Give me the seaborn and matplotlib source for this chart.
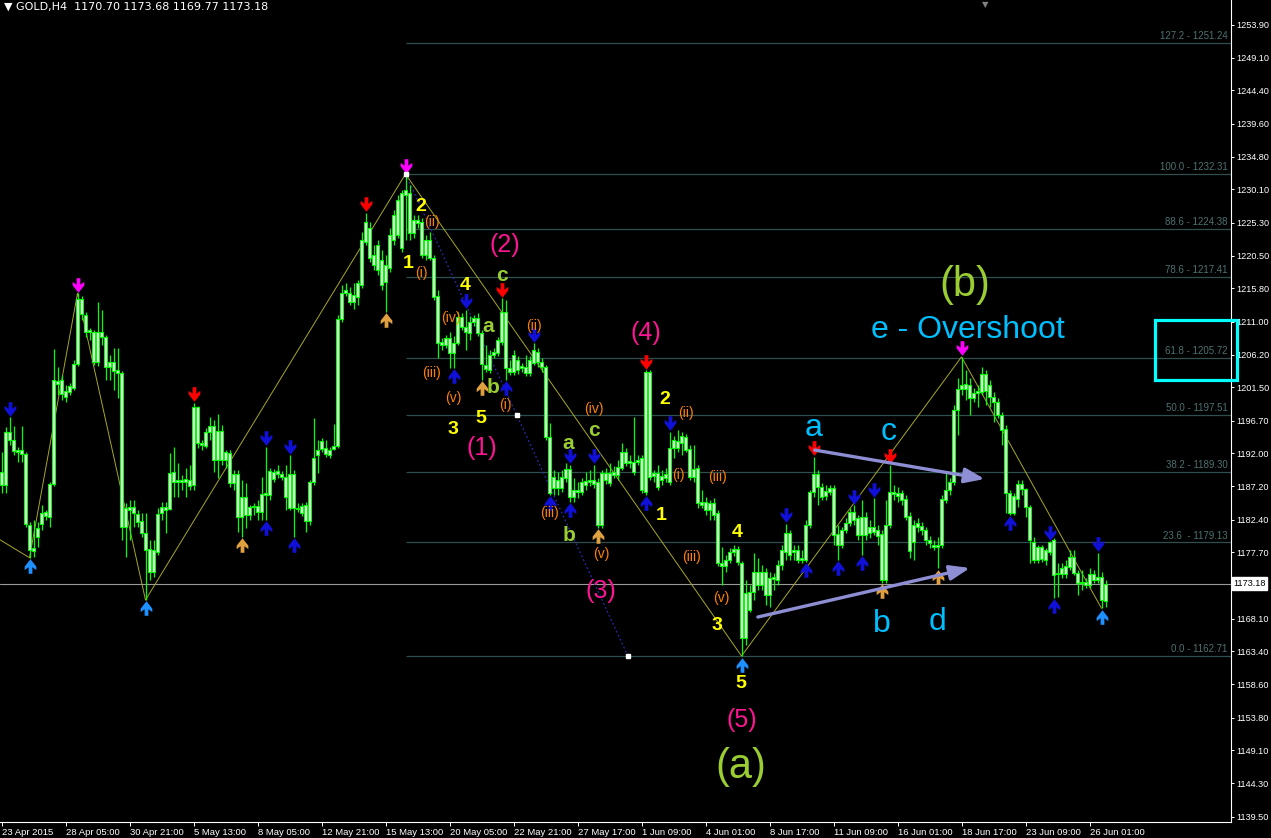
import numpy as np
import matplotlib
matplotlib.use("Agg")
import matplotlib.pyplot as plt
import seaborn as sns
from matplotlib.path import Path
from matplotlib.patches import Rectangle
from matplotlib.transforms import offset_copy, blended_transform_factory

# GOLD H4 candles, 23 Apr - 26 Jun 2015
opens = [
    1189.3, 1187.4, 1195.1, 1193.9, 1192.2, 1192.5, 1191.9, 1181.6, 1177.9, 1179.9,
    1181.8, 1183.5, 1182.8, 1187.6, 1202.4, 1202.6, 1200.1, 1200.8, 1201.4, 1204.9,
    1214.3, 1212.0, 1209.5, 1209.5, 1205.2, 1209.5, 1208.8, 1204.5, 1205.2, 1203.6,
    1203.6, 1181.3, 1184.2, 1183.4, 1183.2, 1182.2, 1180.5, 1178.2, 1174.8, 1177.7,
    1183.4, 1184.2, 1183.9, 1189.3, 1187.8, 1188.1, 1187.8, 1188.1, 1187.4, 1198.7,
    1193.5, 1193.0, 1195.1, 1195.9, 1191.0, 1195.2, 1191.0, 1192.0, 1187.7, 1189.0,
    1182.8, 1185.7, 1183.1, 1184.2, 1184.4, 1183.5, 1186.0, 1186.0, 1189.3, 1189.0,
    1189.0, 1188.6, 1184.1, 1189.0, 1184.1, 1183.4, 1184.5, 1182.2, 1187.8, 1191.7,
    1192.6, 1192.8, 1191.7, 1192.6, 1193.0, 1211.4, 1215.1, 1215.1, 1213.8, 1214.6,
    1216.3, 1222.5, 1224.5, 1220.6, 1218.5, 1219.9, 1216.7, 1218.7, 1222.8, 1223.5,
    1229.6, 1229.3, 1229.6, 1223.8, 1225.7, 1225.4, 1220.6, 1222.8, 1220.2, 1214.7,
    1207.6, 1208.6, 1208.6, 1206.5, 1207.9, 1211.7, 1210.2, 1209.4, 1210.9, 1211.5,
    1209.4, 1204.7, 1204.0, 1206.2, 1206.5, 1208.1, 1212.4, 1204.3, 1203.7, 1205.5,
    1204.3, 1204.5, 1203.6, 1205.0, 1206.6, 1205.2, 1204.5, 1194.3, 1187.0, 1188.1,
    1187.0, 1188.4, 1189.7, 1185.7, 1186.7, 1186.4, 1187.4, 1187.8, 1188.1, 1187.8,
    1181.6, 1189.1, 1187.7, 1189.3, 1188.9, 1189.9, 1192.2, 1190.6, 1190.7, 1190.7,
    1191.3, 1186.4, 1203.7, 1188.7, 1189.1, 1188.1, 1188.4, 1187.8, 1192.8, 1193.8,
    1193.5, 1194.3, 1192.6, 1188.6, 1189.9, 1185.0, 1185.0, 1183.8, 1184.8, 1183.4,
    1176.1, 1175.7, 1176.6, 1177.7, 1178.2, 1176.1, 1165.3, 1172.0, 1172.0, 1174.8,
    1173.0, 1174.8, 1171.5, 1173.8, 1173.7, 1175.9, 1177.7, 1180.5, 1177.7, 1178.0,
    1176.6, 1176.6, 1181.6, 1186.4, 1189.0, 1187.1, 1185.8, 1186.4, 1187.0, 1180.3,
    1178.7, 1180.9, 1181.9, 1183.5, 1182.6, 1180.2, 1182.8, 1180.5, 1181.3, 1180.9,
    1180.3, 1173.7, 1181.6, 1186.4, 1186.3, 1186.3, 1185.4, 1182.9, 1179.2, 1181.3,
    1181.5, 1180.9, 1179.5, 1178.7, 1178.5, 1178.7, 1185.2, 1186.7, 1187.8, 1198.2,
    1201.3, 1202.0, 1201.9, 1200.0, 1200.7, 1200.8, 1203.4, 1201.9, 1200.1, 1199.4,
    1197.5, 1195.5, 1186.3, 1183.4, 1185.4, 1187.6, 1186.8, 1184.2, 1179.2, 1176.6,
    1178.5, 1176.6, 1177.7, 1179.5, 1174.6, 1174.6, 1175.7, 1175.6, 1177.0, 1174.7,
    1173.3, 1173.4, 1173.0, 1174.6, 1173.7, 1174.1, 1170.70,
]
highs = [
    1192.2, 1195.8, 1197.2, 1195.9, 1192.9, 1195.9, 1192.2, 1182.1, 1182.4, 1182.1,
    1184.5, 1183.8, 1187.8, 1207.0, 1204.5, 1203.3, 1201.9, 1202.1, 1205.5, 1215.1,
    1214.7, 1212.4, 1210.1, 1209.8, 1213.8, 1212.7, 1209.1, 1206.2, 1207.2, 1207.2,
    1203.9, 1184.8, 1185.2, 1185.2, 1183.8, 1183.4, 1183.4, 1179.5, 1179.5, 1184.1,
    1185.0, 1185.0, 1192.0, 1192.9, 1190.6, 1188.9, 1189.9, 1190.3, 1199.3, 1198.8,
    1193.9, 1195.6, 1197.2, 1196.8, 1197.7, 1196.1, 1192.5, 1192.5, 1189.6, 1189.6,
    1188.1, 1187.7, 1184.5, 1184.8, 1185.2, 1188.6, 1192.9, 1189.9, 1189.7, 1190.3,
    1189.4, 1190.3, 1191.7, 1189.6, 1184.8, 1184.8, 1185.0, 1188.1, 1197.1, 1193.9,
    1194.2, 1193.9, 1192.9, 1196.2, 1212.0, 1216.3, 1216.6, 1216.0, 1216.6, 1217.0,
    1223.9, 1226.7, 1225.4, 1222.1, 1222.8, 1221.3, 1220.6, 1224.5, 1227.1, 1229.3,
    1230.0, 1232.3, 1230.7, 1226.4, 1226.4, 1226.0, 1223.5, 1223.9, 1220.6, 1215.6,
    1208.6, 1209.1, 1209.5, 1208.9, 1212.4, 1212.2, 1212.7, 1211.8, 1212.0, 1212.2,
    1209.8, 1207.6, 1206.9, 1207.2, 1208.8, 1214.4, 1214.1, 1205.5, 1206.9, 1206.0,
    1205.0, 1206.2, 1206.0, 1207.9, 1207.2, 1205.7, 1204.7, 1196.4, 1189.6, 1189.3,
    1189.6, 1190.6, 1190.3, 1188.4, 1187.8, 1188.4, 1189.3, 1189.6, 1190.3, 1188.4,
    1189.6, 1189.9, 1190.6, 1190.2, 1191.0, 1193.5, 1192.8, 1191.7, 1197.2, 1191.7,
    1191.7, 1204.0, 1204.0, 1189.6, 1190.3, 1189.6, 1189.9, 1195.1, 1194.5, 1195.4,
    1195.1, 1194.8, 1193.2, 1193.2, 1190.3, 1186.7, 1185.7, 1185.2, 1185.5, 1183.8,
    1178.5, 1177.3, 1178.3, 1178.7, 1178.6, 1176.4, 1173.7, 1173.0, 1177.6, 1176.9,
    1175.9, 1175.4, 1174.8, 1174.7, 1176.6, 1178.7, 1181.8, 1180.9, 1178.7, 1178.7,
    1178.0, 1182.4, 1186.7, 1191.5, 1189.6, 1187.7, 1187.4, 1187.4, 1187.4, 1181.6,
    1181.3, 1182.6, 1184.1, 1184.5, 1183.1, 1185.2, 1183.5, 1182.4, 1185.5, 1181.6,
    1180.9, 1185.2, 1190.3, 1187.4, 1187.1, 1186.7, 1186.0, 1183.5, 1182.4, 1182.6,
    1182.1, 1181.3, 1180.0, 1179.5, 1179.9, 1186.0, 1189.3, 1188.4, 1199.0, 1202.9,
    1205.9, 1204.0, 1202.9, 1201.4, 1201.9, 1204.5, 1204.0, 1202.6, 1200.8, 1200.0,
    1198.0, 1196.1, 1186.7, 1186.3, 1188.1, 1188.1, 1187.0, 1184.5, 1179.9, 1178.7,
    1178.7, 1178.3, 1179.3, 1179.8, 1176.1, 1176.1, 1176.6, 1178.0, 1178.0, 1175.1,
    1175.1, 1174.0, 1175.4, 1175.1, 1177.6, 1174.8, 1173.68,
]
lows = [
    1186.3, 1186.3, 1193.2, 1191.7, 1190.7, 1190.7, 1181.3, 1176.9, 1177.0, 1178.5,
    1180.9, 1182.4, 1181.3, 1187.3, 1200.4, 1199.7, 1199.4, 1200.4, 1201.1, 1204.6,
    1211.2, 1208.8, 1208.3, 1204.7, 1204.6, 1207.6, 1202.6, 1202.6, 1201.1, 1200.0,
    1179.5, 1177.0, 1179.5, 1181.3, 1181.3, 1179.9, 1170.8, 1173.7, 1174.1, 1177.3,
    1182.4, 1180.5, 1183.8, 1185.7, 1185.7, 1186.7, 1185.7, 1186.7, 1186.7, 1192.8,
    1192.5, 1192.8, 1193.9, 1189.3, 1188.4, 1190.3, 1189.9, 1187.1, 1186.7, 1180.6,
    1179.9, 1181.2, 1182.4, 1183.1, 1182.4, 1182.4, 1182.4, 1185.2, 1187.8, 1188.4,
    1188.1, 1183.8, 1183.8, 1179.9, 1183.5, 1182.9, 1180.6, 1181.6, 1187.4, 1189.1,
    1192.2, 1191.5, 1191.3, 1192.5, 1192.8, 1210.9, 1214.7, 1213.4, 1212.8, 1213.4,
    1215.9, 1222.1, 1219.6, 1218.5, 1217.7, 1215.6, 1212.4, 1218.2, 1222.1, 1223.1,
    1221.1, 1222.8, 1222.8, 1223.1, 1224.5, 1220.2, 1219.9, 1219.9, 1214.1, 1205.7,
    1206.9, 1207.2, 1204.3, 1204.3, 1207.6, 1209.8, 1206.9, 1208.3, 1210.4, 1208.9,
    1202.6, 1203.7, 1203.6, 1205.7, 1206.0, 1207.6, 1202.6, 1203.3, 1203.3, 1203.4,
    1203.7, 1203.2, 1203.2, 1204.7, 1204.5, 1203.7, 1193.9, 1186.0, 1186.0, 1186.0,
    1186.4, 1187.8, 1185.0, 1185.0, 1185.5, 1186.0, 1186.7, 1187.3, 1187.0, 1181.2,
    1181.2, 1187.6, 1187.3, 1188.4, 1188.1, 1189.6, 1190.2, 1189.9, 1188.9, 1190.3,
    1186.3, 1186.0, 1188.1, 1187.8, 1186.7, 1187.4, 1187.8, 1187.4, 1191.3, 1192.2,
    1191.7, 1192.2, 1188.1, 1187.8, 1184.1, 1184.1, 1183.1, 1182.4, 1182.4, 1175.7,
    1173.0, 1174.8, 1176.1, 1177.2, 1175.9, 1162.71, 1164.3, 1169.1, 1170.8, 1172.2,
    1172.2, 1170.1, 1169.8, 1172.2, 1173.0, 1175.1, 1176.6, 1176.6, 1176.6, 1176.1,
    1176.1, 1176.3, 1181.2, 1185.7, 1184.5, 1185.2, 1185.2, 1186.0, 1178.7, 1176.6,
    1178.3, 1180.5, 1181.5, 1181.6, 1179.5, 1177.3, 1179.5, 1179.8, 1180.2, 1178.7,
    1173.3, 1173.3, 1181.2, 1185.2, 1185.0, 1184.5, 1182.4, 1176.9, 1176.6, 1180.6,
    1180.2, 1178.7, 1178.3, 1178.0, 1175.4, 1178.3, 1184.8, 1186.0, 1187.4, 1194.6,
    1200.4, 1199.7, 1197.5, 1199.4, 1198.7, 1200.4, 1199.0, 1198.7, 1196.5, 1197.1,
    1193.2, 1183.4, 1183.1, 1183.1, 1184.2, 1186.0, 1182.8, 1176.1, 1176.1, 1176.1,
    1176.3, 1175.9, 1177.3, 1171.1, 1171.2, 1174.0, 1174.0, 1175.1, 1174.4, 1171.5,
    1172.2, 1172.5, 1172.5, 1173.3, 1173.3, 1169.6, 1169.77,
]
closes = [
    1187.4, 1195.1, 1193.9, 1192.3, 1192.5, 1191.9, 1181.8, 1178.0, 1178.3, 1181.2,
    1183.4, 1182.9, 1187.6, 1202.6, 1202.0, 1200.6, 1201.0, 1201.7, 1204.9, 1214.3,
    1212.1, 1209.5, 1209.8, 1205.2, 1209.5, 1208.8, 1204.5, 1205.2, 1203.9, 1204.0,
    1181.3, 1184.1, 1183.8, 1184.2, 1182.1, 1180.5, 1178.0, 1174.8, 1178.0, 1183.2,
    1184.2, 1183.8, 1189.1, 1187.8, 1188.1, 1187.8, 1188.3, 1187.3, 1198.7, 1193.5,
    1193.2, 1195.1, 1195.9, 1191.0, 1195.2, 1191.0, 1192.2, 1187.7, 1189.0, 1182.8,
    1185.7, 1183.1, 1184.2, 1184.4, 1183.5, 1186.1, 1186.3, 1189.4, 1188.3, 1189.4,
    1188.6, 1185.7, 1189.0, 1184.1, 1183.9, 1184.4, 1182.2, 1187.8, 1191.3, 1192.5,
    1193.8, 1191.9, 1192.5, 1193.0, 1211.4, 1215.1, 1215.6, 1213.8, 1214.8, 1216.6,
    1222.8, 1225.4, 1220.2, 1219.2, 1222.1, 1216.3, 1219.2, 1223.5, 1226.4, 1228.6,
    1221.6, 1230.0, 1223.8, 1225.7, 1225.2, 1220.6, 1222.8, 1220.2, 1214.6, 1207.9,
    1208.1, 1207.6, 1206.5, 1207.9, 1211.7, 1210.2, 1209.5, 1210.9, 1211.5, 1209.4,
    1204.9, 1204.2, 1206.2, 1206.6, 1208.3, 1212.4, 1204.3, 1203.7, 1206.2, 1204.0,
    1204.6, 1203.6, 1205.5, 1206.9, 1205.2, 1204.5, 1194.3, 1186.3, 1188.6, 1187.0,
    1188.6, 1189.7, 1185.7, 1186.7, 1186.4, 1187.8, 1188.0, 1188.1, 1187.6, 1181.6,
    1189.1, 1188.1, 1189.1, 1188.9, 1190.0, 1192.2, 1190.6, 1190.9, 1189.3, 1191.0,
    1186.7, 1203.7, 1188.6, 1189.1, 1187.1, 1188.7, 1189.0, 1192.8, 1193.9, 1192.8,
    1194.5, 1192.5, 1188.6, 1189.7, 1184.8, 1184.5, 1183.8, 1184.8, 1183.1, 1176.1,
    1175.7, 1176.6, 1177.7, 1178.2, 1176.3, 1165.3, 1171.8, 1169.4, 1174.8, 1173.0,
    1174.8, 1171.5, 1174.0, 1174.1, 1175.9, 1178.0, 1180.5, 1177.3, 1178.0, 1176.6,
    1176.9, 1181.6, 1186.4, 1189.0, 1187.1, 1185.7, 1186.5, 1187.0, 1180.2, 1178.7,
    1180.9, 1181.9, 1183.5, 1182.4, 1180.2, 1182.8, 1180.2, 1181.3, 1180.6, 1180.0,
    1173.7, 1181.6, 1186.4, 1186.1, 1185.8, 1185.2, 1182.8, 1177.9, 1181.6, 1181.9,
    1180.9, 1179.5, 1179.0, 1178.5, 1178.7, 1185.4, 1186.7, 1187.8, 1198.2, 1201.3,
    1201.9, 1201.3, 1200.0, 1200.7, 1201.0, 1203.4, 1201.0, 1200.1, 1199.4, 1197.5,
    1195.4, 1186.3, 1183.4, 1185.8, 1187.6, 1186.8, 1184.2, 1179.5, 1176.6, 1178.5,
    1176.7, 1178.0, 1179.2, 1174.4, 1174.7, 1175.4, 1174.6, 1177.0, 1174.7, 1173.3,
    1173.4, 1173.0, 1174.6, 1173.7, 1174.1, 1170.8, 1173.18,
]

time_ticks = [0, 16, 32, 48, 64, 80, 96, 112, 128, 144, 160, 176, 192, 208, 224, 240, 256, 272]
time_labels = ["23 Apr 2015", "28 Apr 05:00", "30 Apr 21:00", "5 May 13:00", "8 May 05:00",
               "12 May 21:00", "15 May 13:00", "20 May 05:00", "22 May 21:00", "27 May 17:00",
               "1 Jun 09:00", "4 Jun 01:00", "8 Jun 17:00", "11 Jun 09:00", "16 Jun 01:00",
               "18 Jun 17:00", "23 Jun 09:00", "26 Jun 01:00"]
price_ticks = [1253.90, 1249.10, 1244.40, 1239.60, 1234.80, 1230.10, 1225.30, 1220.50,
               1215.80, 1211.00, 1206.20, 1201.50, 1196.70, 1192.00, 1187.20, 1182.40,
               1177.70, 1168.10, 1163.40, 1158.60, 1153.80, 1149.10, 1144.30, 1139.50]
last_price = 1173.18

fib_pct = [127.2, 100.0, 88.6, 78.6, 61.8, 50.0, 38.2, 23.6, 0.0]
fib_price = [1251.24, 1232.31, 1224.38, 1217.41, 1205.72, 1197.51, 1189.30, 1179.13, 1162.71]
fib_bars = [101, 156.6]

zz_bars = [-0.4, 7, 19, 36, 101, 185, 240, 275]
zz_prices = [1179.5, 1176.9, 1215.1, 1170.8, 1232.31, 1162.71, 1205.9, 1169.6]

down_bars = [2, 19, 48, 66, 72, 91, 101, 116, 125, 133, 142, 148, 161, 167, 196, 203,
             213, 218, 222, 240, 262, 274]
down_kinds = ["b", "m", "r", "b", "b", "r", "m", "b", "r", "b", "b", "b", "r", "b", "b", "r",
              "b", "b", "r", "m", "b", "b"]
up_bars = [7, 36, 60, 66, 73, 96, 113, 120, 126, 137, 142, 149, 161, 185, 201, 209, 215,
           220, 234, 252, 263, 275]
up_kinds = ["l", "l", "o", "b", "b", "o", "b", "o", "b", "b", "b", "o", "b", "l", "b", "b", "b",
            "o", "o", "b", "b", "l"]
arrow_colors = {"b": "#1010d8", "r": "#ff0000", "m": "#ff00ff", "l": "#1e90ff", "o": "#e0a040"}

# triangle guide arrows (start bar, start price, end bar, end price)
upper_edge = (203.3, 1192.45, 245.8, 1188.27)
lower_edge = (189.1, 1168.34, 242.1, 1175.42)
target_box = (288.3, 1202.6, 308.8, 1211.2)

GREEN = "#9acd32"
SKY = "#00bfff"
PINK = "#ff1493"
YEL = "#ffff00"
ORG = "#ff8000"
wave_paren = [
    ("(b)", 240.9, 1216.3, GREEN, 30), ("(a)", 184.9, 1146.7, GREEN, 30),
    ("(2)", 125.9, 1222.1, PINK, 18), ("(1)", 120.0, 1192.8, PINK, 18),
    ("(4)", 161.0, 1209.4, PINK, 18), ("(3)", 149.9, 1172.1, PINK, 18),
    ("(5)", 185.0, 1153.4, PINK, 18),
    ("(ii)", 107.6, 1225.4, ORG, 10), ("(i)", 104.9, 1218.0, ORG, 10),
    ("(iv)", 112.4, 1211.5, ORG, 10), ("(iii)", 107.6, 1203.6, ORG, 10),
    ("(v)", 112.9, 1200.0, ORG, 10), ("(i)", 125.9, 1199.0, ORG, 10),
    ("(ii)", 133.1, 1210.4, ORG, 10), ("(iv)", 148.1, 1198.4, ORG, 10),
    ("(iii)", 137.1, 1183.4, ORG, 10), ("(v)", 149.9, 1177.4, ORG, 10),
    ("(ii)", 171.1, 1197.8, ORG, 10), ("(i)", 169.1, 1188.9, ORG, 10),
    ("(iii)", 178.9, 1188.6, ORG, 10), ("(iii)", 172.6, 1177.0, ORG, 10),
    ("(v)", 179.9, 1171.1, ORG, 10),
]
wave_plain = [
    ("e - Overshoot", 241.6, 1208.6, SKY, 23, "normal"),
    ("a", 203.0, 1194.5, SKY, 23, "normal"), ("c", 221.7, 1193.9, SKY, 23, "normal"),
    ("b", 220.0, 1166.2, SKY, 23, "normal"), ("d", 234.0, 1166.5, SKY, 23, "normal"),
    ("2", 104.8, 1227.0, YEL, 14, "bold"), ("1", 101.7, 1218.8, YEL, 14, "bold"),
    ("4", 115.9, 1215.6, YEL, 14, "bold"), ("3", 112.8, 1194.8, YEL, 14, "bold"),
    ("5", 119.9, 1196.3, YEL, 14, "bold"), ("2", 165.9, 1199.1, YEL, 14, "bold"),
    ("1", 164.9, 1182.4, YEL, 14, "bold"), ("4", 183.8, 1179.9, YEL, 14, "bold"),
    ("3", 178.8, 1166.5, YEL, 14, "bold"), ("5", 184.8, 1158.1, YEL, 14, "bold"),
    ("c", 125.0, 1216.9, GREEN, 15, "bold"), ("a", 121.7, 1209.5, GREEN, 15, "bold"),
    ("b", 123.0, 1200.7, GREEN, 15, "bold"), ("a", 141.7, 1192.6, GREEN, 15, "bold"),
    ("c", 148.0, 1194.5, GREEN, 15, "bold"), ("b", 141.8, 1179.3, GREEN, 15, "bold"),
]

sns.set_style("dark", {"axes.facecolor": "black", "figure.facecolor": "black"})
plt.rcParams["font.family"] = ["Liberation Sans", "DejaVu Sans"]

W, H = 1271, 838
fig = plt.figure(figsize=(W / 100, H / 100), dpi=100)
ax = fig.add_axes([0, 16 / H, 1231 / W, 822 / H])
ax.set_facecolor("black")
ax.grid(False)

o = np.array(opens)
h = np.array(highs)
l = np.array(lows)
c = np.array(closes)
x = np.arange(len(o))
h = np.maximum(h, np.maximum(o, c))
l = np.minimum(l, np.minimum(o, c))

x0, x1 = -0.375, 307.375
ax.set_xlim(x0, x1)
ax.set_ylim(1138.74, 1257.44)

# fibonacci levels
ax.hlines(fib_price, fib_bars[0], x1, color="#2f4f4f", lw=0.9, zorder=1)
for pct, p in zip(fib_pct, fib_price):
    sep = "  - " if pct == 23.6 else " - "
    ax.text(x1 - 0.8, p + 0.25, f"{pct:.1f}{sep}{p:.2f}", ha="right", va="bottom",
            color="#4f7070", fontsize=7, zorder=2)
ax.plot(fib_bars, [fib_price[1], fib_price[-1]], color="#2a2ab0", lw=0.9,
        ls=(0, (1.5, 2)), zorder=2)
ax.plot([fib_bars[0], np.mean(fib_bars), fib_bars[1]], [fib_price[1], fib_price[5], fib_price[-1]],
        "s", color="white", ms=2.2, zorder=7)

# last price line
ax.axhline(last_price, color="#9a9a9a", lw=0.8, zorder=1)

# zigzag
sns.lineplot(x=zz_bars, y=zz_prices, ax=ax, color="#a8a820", lw=0.7, sort=False,
             estimator=None, zorder=2)

# candles
ax.vlines(x, l, h, color="#00ff00", lw=0.9, zorder=3)
bottom = np.minimum(o, c)
height = np.maximum(np.abs(c - o), 0.1)
ax.bar(x, height, bottom=bottom, width=0.55, color="white", edgecolor="#00ff00",
       linewidth=0.8, zorder=4)

# fractal arrows
dn = Path([(-0.26, 1.0), (0.26, 1.0), (0.26, 0.1), (0.8, 0.5), (0.8, 0.02), (0.0, -1.0),
           (-0.8, 0.02), (-0.8, 0.5), (-0.26, 0.1), (-0.26, 1.0)], closed=True)
up = Path([(vx, -vy) for vx, vy in dn.vertices], closed=True)
t_above = offset_copy(ax.transData, fig=fig, x=0, y=8.5, units="dots")
t_below = offset_copy(ax.transData, fig=fig, x=0, y=-8.5, units="dots")
for b, k in zip(down_bars, down_kinds):
    ax.plot([b], [h[b]], marker=dn, ms=10.5, color=arrow_colors[k], mew=0, ls="none",
            transform=t_above, zorder=6)
for b, k in zip(up_bars, up_kinds):
    ax.plot([b], [l[b]], marker=up, ms=10.5, color=arrow_colors[k], mew=0, ls="none",
            transform=t_below, zorder=6)

# triangle edges
for sx, sy, ex, ey in (upper_edge, lower_edge):
    ax.annotate("", xy=(ex, ey), xytext=(sx, sy),
                arrowprops=dict(arrowstyle="-|>,head_length=1.2,head_width=0.45",
                                color="#8e8ed4", lw=2.4, shrinkA=0, shrinkB=0), zorder=6)

bx0, by0, bx1, by1 = target_box
ax.add_patch(Rectangle((bx0, by0), bx1 - bx0, by1 - by0, fill=False, ec="#00ffff",
                       lw=2.3, clip_on=False, zorder=8))

# wave labels
for txt, bx, py, col, fs in wave_paren:
    ax.text(bx, py, txt, color=col, fontsize=fs, ha="center", va="center", zorder=9)
for txt, bx, py, col, fs, wt in wave_plain:
    ax.text(bx, py, txt, color=col, fontsize=fs, fontweight=wt, ha="center",
            va="baseline", zorder=9)

# axes styling
for side in ("left", "top"):
    ax.spines[side].set_visible(False)
for side in ("right", "bottom"):
    ax.spines[side].set_color("white")
    ax.spines[side].set_linewidth(0.8)
ax.yaxis.tick_right()
ax.set_yticks(price_ticks)
ax.set_yticklabels([f"{p:.2f}" for p in price_ticks])
ax.set_xticks(time_ticks)
ax.set_xticklabels(time_labels, ha="left")
ax.tick_params(axis="y", colors="white", length=2.5, width=0.7, pad=1.2, labelsize=6.6,
               right=True, left=False)
ax.tick_params(axis="x", colors="white", length=3, width=0.7, pad=1, labelsize=6.8,
               bottom=True)
ax.set_xlabel("")
ax.set_ylabel("")

trans = blended_transform_factory(ax.transAxes, ax.transData)
ax.text(1.002, last_price, f"{last_price:.2f}", transform=trans, color="black", fontsize=6.6,
        va="center", ha="left", zorder=10,
        bbox=dict(boxstyle="square,pad=0.18", fc="white", ec="white"))

fig.text(4 / W, 1 - 7 / H, "\u25bc GOLD,H4  1170.70 1173.68 1169.77 1173.18", color="white",
         fontsize=8, va="center", ha="left", family=["DejaVu Sans"])
fig.text(985 / W, 1.0, "\u25bc", color="#808080", fontsize=6, va="top", ha="center",
         family=["DejaVu Sans"])

fig.savefig("out.png", dpi=100, facecolor="black")
